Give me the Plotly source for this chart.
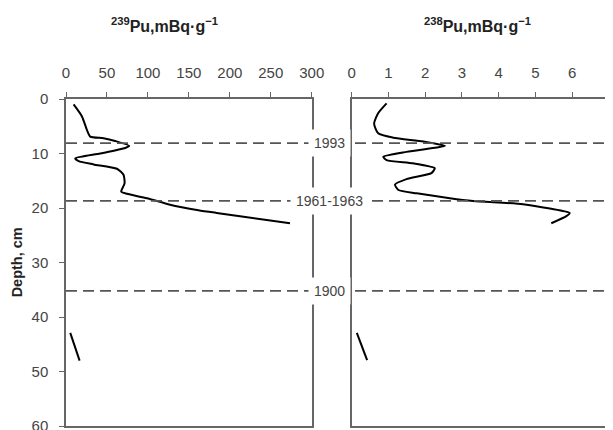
import plotly.graph_objects as go

# 239Pu profile (mBq/g) vs depth (cm)
pu239_x = [9.3, 19.5, 25.6, 29.6, 45.9, 60.0, 77.2, 72.3, 41.8, 11.3, 15.4, 33.7, 62.2, 70.2, 71.5, 67.4,
           74.4, 98.8, 127.0, 161.7, 184.0, 245.0, 273.5]
pu239_d = [1.0, 3.2, 5.7, 6.9, 7.2, 7.7, 8.6, 9.0, 10.0, 10.9, 11.4, 12.0, 12.8, 13.9, 15.5, 17.0,
           17.4, 18.2, 19.4, 20.4, 20.9, 22.2, 22.8]
pu239_deep_x = [5.2, 16.6]
pu239_deep_d = [42.9, 48.0]

# 238Pu profile (mBq/g) vs depth (cm)
pu238_x = [0.95, 0.72, 0.61, 0.72, 1.13, 1.95, 2.54, 2.31, 1.49, 0.86, 0.95, 1.67, 2.26, 2.17, 1.49, 1.18,
           1.27, 1.77, 2.67, 3.30, 4.66, 5.39, 5.93, 5.84, 5.43]
pu238_d = [0.8, 2.6, 4.5, 6.3, 7.1, 7.8, 8.6, 8.9, 9.7, 10.6, 11.2, 11.8, 12.7, 13.6, 14.7, 15.7,
           16.7, 17.3, 18.2, 18.7, 19.3, 20.1, 20.9, 21.5, 22.8]
pu238_deep_x = [0.14, 0.42]
pu238_deep_d = [42.9, 47.9]

# Dating horizons
horizon_labels = ["1993", "1961-1963", "1900"]
horizon_depths = [8.1, 18.7, 35.2]

left_ticks = [0, 50, 100, 150, 200, 250, 300]
right_ticks = [0, 1, 2, 3, 4, 5, 6, 7]
depth_ticks = [0, 10, 20, 30, 40, 50, 60]

FONT = "Liberation Sans, Arial, sans-serif"
AX = "#666666"
TXT = "#444444"

fig = go.Figure()
line = dict(color="black", width=2)
fig.add_trace(go.Scatter(x=pu239_x, y=pu239_d, mode="lines", line=dict(line, shape="spline", smoothing=0.6),
                         xaxis="x", yaxis="y", showlegend=False))
fig.add_trace(go.Scatter(x=pu239_deep_x, y=pu239_deep_d, mode="lines", line=line,
                         xaxis="x", yaxis="y", showlegend=False))
fig.add_trace(go.Scatter(x=pu238_x, y=pu238_d, mode="lines", line=dict(line, shape="spline", smoothing=0.6),
                         xaxis="x2", yaxis="y2", showlegend=False))
fig.add_trace(go.Scatter(x=pu238_deep_x, y=pu238_deep_d, mode="lines", line=line,
                         xaxis="x2", yaxis="y2", showlegend=False))

common_x = dict(side="top", ticks="outside", ticklen=5, tickcolor=AX, tickwidth=1.2,
                showline=True, mirror=True, linecolor=AX, linewidth=1.5,
                showgrid=False, zeroline=False, tickfont=dict(family=FONT, size=15, color=TXT),
                ticklabelstandoff=8, automargin=False)
fig.update_layout(
    width=613, height=430,
    margin=dict(l=57.7, r=11.7, t=91, b=12.3, autoexpand=False),
    paper_bgcolor="white", plot_bgcolor="white",
    xaxis=dict(common_x, domain=[0, 0.4525], range=[0, 300], tickvals=left_ticks, anchor="y"),
    xaxis2=dict(common_x, domain=[0.5261, 1], range=[0, 7], tickvals=right_ticks, anchor="y2"),
    yaxis=dict(range=[60, 0], tickvals=depth_ticks, ticks="outside", ticklen=5, tickcolor=AX, tickwidth=1.2,
               showline=True, mirror=True, linecolor=AX, linewidth=1.5, showgrid=False, zeroline=False,
               tickfont=dict(family=FONT, size=15, color=TXT), anchor="x", ticklabelstandoff=8,
               automargin=False),
    yaxis2=dict(range=[60, 0], showticklabels=False, ticks="", showline=True, mirror=True,
                linecolor=AX, linewidth=1.5, showgrid=False, zeroline=False, anchor="x2", automargin=False),
)

for d in horizon_depths:
    fig.add_shape(type="line", xref="paper", yref="y", x0=0, x1=1.0068, y0=d, y1=d,
                  line=dict(color="#555555", width=1.6, dash="11px,6px"), layer="above")

for lab, d in zip(horizon_labels, horizon_depths):
    fig.add_annotation(x=0.4844, y=d, xref="paper", yref="y", text=lab, showarrow=False,
                       xanchor="center", yanchor="middle",
                       bgcolor="white", borderpad=5, font=dict(family=FONT, size=14, color=TXT))

fig.add_annotation(x=0.181, y=1.2265, xref="paper", yref="paper", showarrow=False,
                   xanchor="center", yanchor="middle",
                   text="<b><sup>239</sup>Pu,mBq·g<sup>−1</sup></b>",
                   font=dict(family=FONT, size=16, color="#222222"))
fig.add_annotation(x=0.7585, y=1.2265, xref="paper", yref="paper", showarrow=False,
                   xanchor="center", yanchor="middle",
                   text="<b><sup>238</sup>Pu,mBq·g<sup>−1</sup></b>",
                   font=dict(family=FONT, size=16, color="#222222"))
fig.add_annotation(x=-0.0905, y=0.5, xref="paper", yref="paper", showarrow=False, textangle=-90,
                   xanchor="center", yanchor="middle",
                   text="<b>Depth, cm</b>", font=dict(family=FONT, size=14.5, color="#222222"))

fig.write_html("out.html")
